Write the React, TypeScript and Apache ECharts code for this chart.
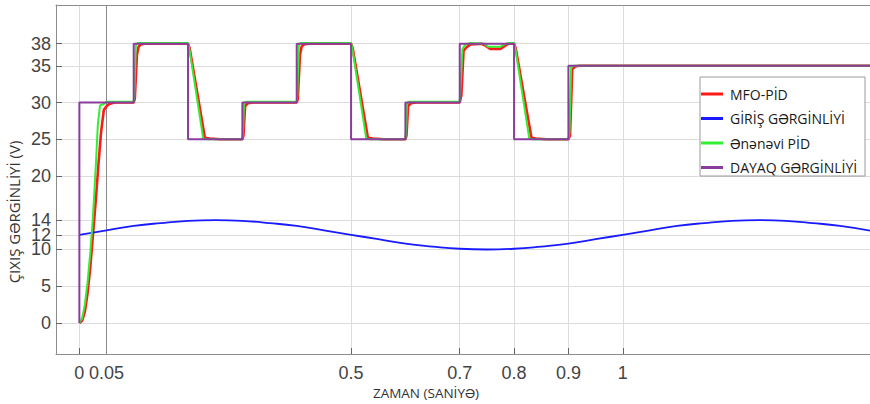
import React, { useEffect, useRef } from "react";
import * as echarts from "echarts";

const xTicks = [0, 0.05, 0.5, 0.7, 0.8, 0.9, 1];
const yTicks = [0, 5, 10, 12, 14, 20, 25, 30, 35, 38];

const seriesNames = ["MFO-PİD", "GİRİŞ GƏRGİNLİYİ", "Ənənəvi PİD", "DAYAQ GƏRGİNLİYİ"];

const mfoPid: [number, number][] = [
  [0, 0], [0.005, 0.3], [0.01, 1.5], [0.015, 4], [0.02, 7.5], [0.025, 12], [0.03, 16.5], [0.035, 21.5], [0.04, 26], [0.045, 29], [0.05, 29.5], [0.055, 29.8], [0.065, 30], [0.1, 30],
  [0.102, 30.5], [0.106, 36.5], [0.109, 37.6], [0.113, 37.9], [0.12, 38], [0.2, 38],
  [0.203, 37.4], [0.231, 25.2], [0.24, 25.1], [0.26, 25], [0.3, 25],
  [0.302, 25.5], [0.305, 29.5], [0.31, 29.9], [0.32, 30], [0.4, 30],
  [0.402, 30.5], [0.406, 36.5], [0.409, 37.6], [0.413, 37.9], [0.42, 38], [0.5, 38],
  [0.503, 37.4], [0.531, 25.2], [0.54, 25.1], [0.56, 25], [0.6, 25],
  [0.602, 25.5], [0.605, 29.5], [0.61, 29.9], [0.62, 30], [0.7, 30],
  [0.703, 31], [0.707, 37], [0.712, 37.5], [0.72, 37.9], [0.74, 38], [0.748, 37.7], [0.756, 37.3], [0.775, 37.3], [0.783, 37.7], [0.79, 38], [0.8, 38],
  [0.803, 37.4], [0.832, 25.2], [0.84, 25.1], [0.86, 25], [0.9, 25],
  [0.903, 25.5], [0.907, 34.5], [0.912, 34.9], [0.92, 35], [1.46, 35],
];

const inputT = [0, 0.05, 0.1, 0.15, 0.2, 0.25, 0.3, 0.35, 0.4, 0.45, 0.5, 0.55, 0.6, 0.65, 0.7, 0.75, 0.8, 0.85, 0.9, 0.95, 1.0, 1.05, 1.1, 1.15, 1.2, 1.25, 1.3, 1.35, 1.4, 1.46];
const inputV = [12, 12.6, 13.2, 13.6, 13.9, 14, 13.9, 13.6, 13.2, 12.6, 12, 11.4, 10.8, 10.4, 10.1, 10, 10.1, 10.4, 10.8, 11.4, 12, 12.6, 13.2, 13.6, 13.9, 14, 13.9, 13.6, 13.2, 12.5];

const classicPid: [number, number][] = [
  [0, 0], [0.005, 0.6], [0.01, 2.5], [0.015, 5.5], [0.02, 9.5], [0.025, 14.5], [0.03, 21], [0.034, 27], [0.038, 29.6], [0.045, 29.8], [0.05, 30.1], [0.1, 30.1],
  [0.101, 31], [0.104, 37.8], [0.107, 38.1], [0.2, 38.1], [0.202, 37.5], [0.228, 25.1], [0.235, 25], [0.3, 25],
  [0.301, 26], [0.303, 29.8], [0.306, 30.1], [0.4, 30.1],
  [0.401, 31], [0.404, 37.8], [0.407, 38.1], [0.5, 38.1], [0.502, 37.5], [0.528, 25.1], [0.535, 25], [0.6, 25],
  [0.601, 26], [0.603, 29.8], [0.606, 30.1], [0.7, 30.1],
  [0.701, 31.5], [0.705, 37.3], [0.71, 37.9], [0.72, 38.1], [0.745, 38], [0.752, 37.6], [0.775, 37.6], [0.782, 37.9], [0.79, 38.1], [0.8, 38.1],
  [0.802, 37.5], [0.828, 25.1], [0.835, 25], [0.9, 25],
  [0.902, 26], [0.905, 34.8], [0.91, 35], [1.46, 35],
];

const reference: [number, number][] = [
  [0, 0], [0, 30], [0.1, 30], [0.1, 38], [0.2, 38], [0.2, 25], [0.3, 25], [0.3, 30], [0.4, 30], [0.4, 38],
  [0.5, 38], [0.5, 25], [0.6, 25], [0.6, 30], [0.7, 30], [0.7, 38], [0.8, 38], [0.8, 25], [0.9, 25], [0.9, 35], [1.46, 35],
];

const colors = ["#ff1a1a", "#1a1aff", "#33ee33", "#8a3d9c"];

export default function App() {
  const ref = useRef<HTMLDivElement>(null);
  useEffect(() => {
    if (!ref.current) return;
    const chart = echarts.init(ref.current, undefined, { renderer: "svg" });
    const font = "'Liberation Sans', Arial, sans-serif";
    const xMin = -0.043;
    const xMax = 1.455;
    chart.setOption({
      animation: false,
      backgroundColor: "#ffffff",
      grid: { left: 56, right: 0, top: 5, bottom: 50, containLabel: false },
      xAxis: [
        {
          type: "value",
          min: xMin,
          max: xMax,
          axisLine: { show: true, onZero: false, lineStyle: { color: "#8c8c8c", width: 1 } },
          axisTick: { show: true, inside: true, length: 6, customValues: xTicks, lineStyle: { color: "#666" } },
          axisLabel: {
            customValues: xTicks,
            fontSize: 18,
            color: "#444",
            fontFamily: font,
            margin: 10,
            hideOverlap: false,
            formatter: (v: number) => String(v),
          },
          splitLine: { show: true, lineStyle: { color: "#dcdcdc", width: 1 } },
        },
        {
          type: "value",
          position: "top",
          min: xMin,
          max: xMax,
          axisLine: { show: true, onZero: false, lineStyle: { color: "#8c8c8c", width: 1 } },
          axisTick: { show: false },
          axisLabel: { show: false },
          splitLine: { show: false },
        },
      ],
      yAxis: {
        type: "value",
        min: -4.22,
        max: 43.27,
        axisLine: { show: true, onZero: false, lineStyle: { color: "#8c8c8c", width: 1 } },
        axisTick: { show: true, inside: true, length: 6, customValues: yTicks, lineStyle: { color: "#666" } },
        axisLabel: {
          customValues: yTicks,
          fontSize: 18,
          color: "#444",
          fontFamily: font,
          margin: 5,
          formatter: (v: number) => String(v),
        },
        splitLine: { show: true, lineStyle: { color: "#dcdcdc", width: 1 } },
      },
      legend: {
        orient: "vertical",
        left: 701,
        top: 86,
        z: 20,
        itemGap: 8.5,
        itemWidth: 22,
        itemHeight: 3,
        padding: 0,
        icon: "rect",
        data: seriesNames,
        textStyle: { fontSize: 14, color: "#1a1a1a", fontFamily: "'Open Sans', sans-serif", lineHeight: 16, padding: [0, 0, 0, 2] },
      },
      graphic: [
        {
          type: "rect",
          z: 15,
          shape: { x: 700, y: 77, width: 165, height: 99 },
          style: { fill: "#ffffff", stroke: "#9a9a9a", lineWidth: 1 },
        },
        {
          type: "text",
          z: 10,
          x: 14,
          y: 212,
          rotation: Math.PI / 2,
          style: {
            text: "ÇIXIŞ GƏRGİNLİYİ (V)",
            fontSize: 15,
            fontFamily: "'Open Sans', sans-serif",
            fill: "#333",
            align: "center",
            verticalAlign: "middle",
          },
        },
        {
          type: "text",
          z: 10,
          x: 426,
          y: 393,
          style: {
            text: "ZAMAN (SANİYƏ)",
            fontSize: 13.5,
            fontFamily: "'Open Sans', sans-serif",
            fill: "#333",
            align: "center",
            verticalAlign: "middle",
          },
        },
      ],
      series: [
        {
          name: seriesNames[0],
          type: "line",
          data: mfoPid,
          showSymbol: false,
          lineStyle: { color: colors[0], width: 2.6 },
          itemStyle: { color: colors[0] },
          z: 3,
          markLine: {
            silent: true,
            symbol: "none",
            label: { show: false },
            lineStyle: { color: "#8a8a8a", width: 1, type: "solid" },
            data: [{ xAxis: 0.05 }],
            z: 1,
          },
        },
        {
          name: seriesNames[1],
          type: "line",
          data: inputT.map((t, i) => [t, inputV[i]]),
          smooth: true,
          showSymbol: false,
          lineStyle: { color: colors[1], width: 1.8 },
          itemStyle: { color: colors[1] },
          z: 4,
        },
        {
          name: seriesNames[2],
          type: "line",
          data: classicPid,
          showSymbol: false,
          lineStyle: { color: colors[2], width: 2 },
          itemStyle: { color: colors[2] },
          z: 5,
        },
        {
          name: seriesNames[3],
          type: "line",
          data: reference,
          showSymbol: false,
          lineStyle: { color: colors[3], width: 2 },
          itemStyle: { color: colors[3] },
          z: 6,
        },
      ],
    });
    return () => chart.dispose();
  }, []);
  return (
    <div
      ref={ref}
      style={{ position: "fixed", left: 0, top: 0, width: 870, height: 404 }}
    />
  );
}
